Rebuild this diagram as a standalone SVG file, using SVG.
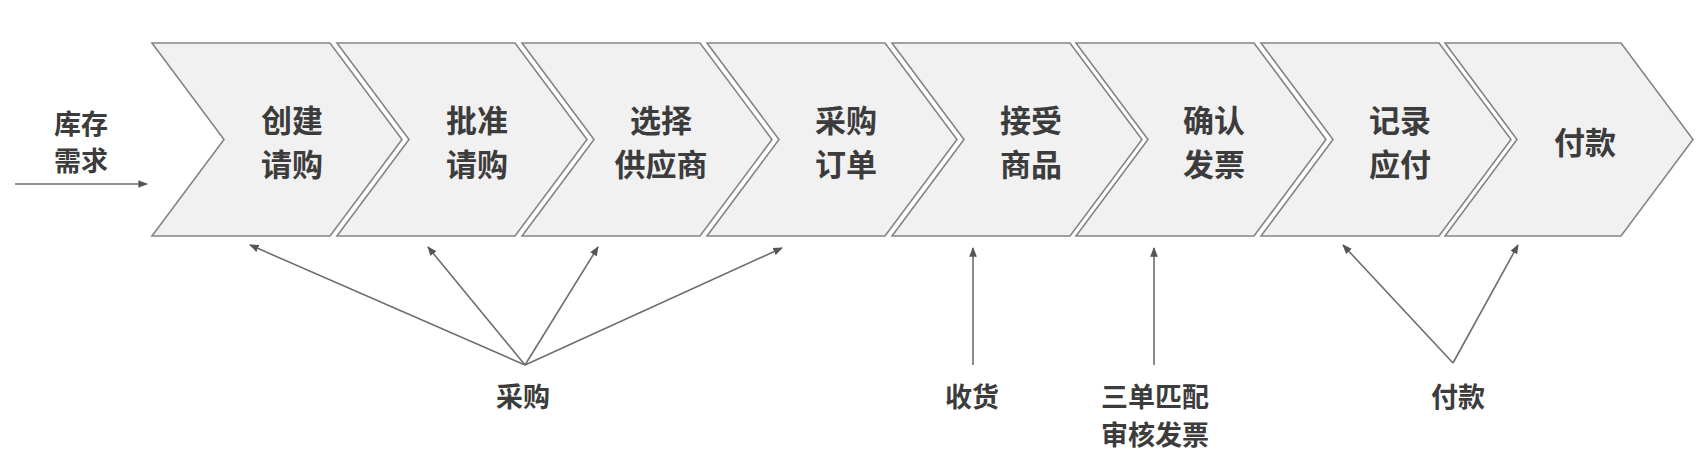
<svg xmlns="http://www.w3.org/2000/svg" width="1705" height="457" viewBox="0 0 1705 457">
<style>
.chev{fill:#f1f1f1;stroke:#858585;stroke-width:1.6}
.t{font-family:"Noto Sans CJK SC","Noto Sans CJK JP",sans-serif;font-weight:bold;fill:#3c3c3c;text-anchor:middle;dominant-baseline:central}
.big{font-size:31px}
.sm{font-size:27px}
.arr{fill:none;stroke:#6e6e6e;stroke-width:1.6;marker-end:url(#ah)}
</style>
<defs>
<marker id="ah" viewBox="0 0 10 10" refX="9" refY="5" markerWidth="6" markerHeight="6" markerUnits="strokeWidth" orient="auto">
<path d="M0,1 L10,5 L0,9 Z" fill="#555555"/>
</marker>
</defs>
<rect width="1705" height="457" fill="#ffffff"/>
<g id="n1"><path class="chev" d="M152,43 H330 L402,139.5 L330,236 H152 L224,139.5 Z"/><text class="t big" x="292" y="118">创建</text><text class="t big" x="292" y="162">请购</text></g>
<g id="n2"><path class="chev" d="M337,43 H515 L587,139.5 L515,236 H337 L409,139.5 Z"/><text class="t big" x="477" y="118">批准</text><text class="t big" x="477" y="162">请购</text></g>
<g id="n3"><path class="chev" d="M522,43 H700 L772,139.5 L700,236 H522 L594,139.5 Z"/><text class="t big" x="661" y="118">选择</text><text class="t big" x="661" y="162">供应商</text></g>
<g id="n4"><path class="chev" d="M707,43 H885 L957,139.5 L885,236 H707 L779,139.5 Z"/><text class="t big" x="846" y="118">采购</text><text class="t big" x="846" y="162">订单</text></g>
<g id="n5"><path class="chev" d="M892,43 H1070 L1142,139.5 L1070,236 H892 L964,139.5 Z"/><text class="t big" x="1031" y="118">接受</text><text class="t big" x="1031" y="162">商品</text></g>
<g id="n6"><path class="chev" d="M1076,43 H1254 L1326,139.5 L1254,236 H1076 L1148,139.5 Z"/><text class="t big" x="1214" y="118">确认</text><text class="t big" x="1214" y="162">发票</text></g>
<g id="n7"><path class="chev" d="M1261,43 H1439 L1511,139.5 L1439,236 H1261 L1333,139.5 Z"/><text class="t big" x="1400" y="118">记录</text><text class="t big" x="1400" y="162">应付</text></g>
<g id="n8"><path class="chev" d="M1445,43 H1621 L1693,139.5 L1621,236 H1445 L1517,139.5 Z"/><text class="t big" x="1585" y="140">付款</text></g>
<g id="l-demand"><text class="t sm" x="81" y="122">库存</text><text class="t sm" x="81" y="159">需求</text></g>
<g id="l-purchase"><text class="t sm" x="523" y="395">采购</text></g>
<g id="l-receive"><text class="t sm" x="972" y="395">收货</text></g>
<g id="l-match"><text class="t sm" x="1155" y="395">三单匹配</text><text class="t sm" x="1155" y="433">审核发票</text></g>
<g id="l-pay"><text class="t sm" x="1458" y="395">付款</text></g>
<g id="connectors">
<path class="arr" d="M15,184 H147"/>
<path class="arr" d="M525,365 L250,245"/>
<path class="arr" d="M525,365 L428,247"/>
<path class="arr" d="M525,365 L598,247"/>
<path class="arr" d="M525,365 L782,248"/>
<path class="arr" d="M973,365 V248"/>
<path class="arr" d="M1154,365 V248"/>
<path class="arr" d="M1453,363 L1343,245"/>
<path class="arr" d="M1453,363 L1518,245"/>
</g>
</svg>
